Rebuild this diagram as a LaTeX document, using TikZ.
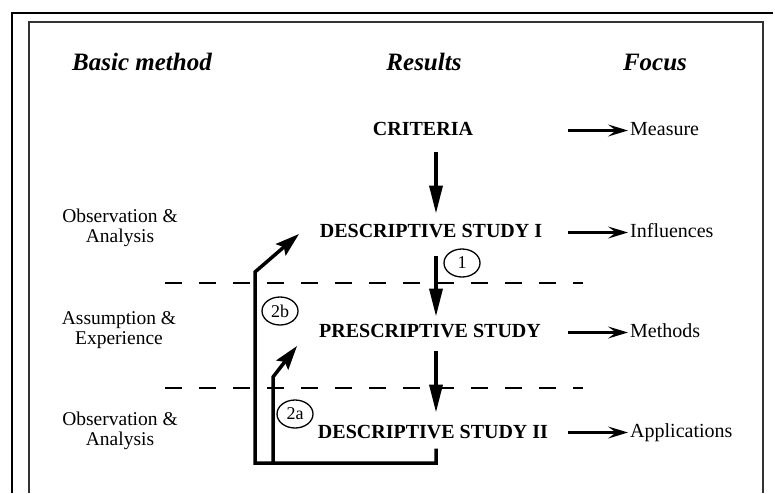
\documentclass[tikz,border=0pt]{standalone}
\usepackage{fontspec}
\setmainfont{Liberation Serif}
\usetikzlibrary{arrows.meta,shapes.geometric}

\begin{document}
\begin{tikzpicture}[x=1pt,y=-1pt,
  colhead/.style={font=\fontsize{25}{25}\selectfont\bfseries\itshape, anchor=base, inner sep=0},
  result/.style={font=\fontsize{20}{20}\selectfont\bfseries, anchor=base, inner sep=0},
  basic/.style={font=\fontsize{19.5}{20}\selectfont, align=center, inner sep=0},
  focus/.style={font=\fontsize{20}{20}\selectfont, anchor=base west, inner sep=0, text height=13pt, text depth=4pt},
  flowarrow/.style={line width=3.5pt, -{Triangle[length=28pt,width=13pt]}},
  focusarrow/.style={line width=2.2pt, -{Stealth[length=20pt,width=12pt,inset=8pt]}},
  feedarrow/.style={line width=3.5pt, -{Stealth[length=24pt,width=15pt,inset=4pt]}},
  phasetag/.style={draw, ellipse, line width=1.3pt, minimum width=36pt, minimum height=28pt, inner sep=0, font=\fontsize{18}{18}\selectfont},
  phaseline/.style={line width=2pt, dash pattern=on 17pt off 17pt}]
\useasboundingbox (0,0) rectangle (775,493);
% frames
\draw[line width=2pt] (12,493) -- (12,13) -- (773,13);
\draw[line width=2pt, black!80] (29,493) -- (29,22) -- (763,22) -- (763,493);
% column heads
\node[colhead] (hbasic) at (142,70) {Basic method};
\node[colhead] (hresults) at (424,70) {Results};
\node[colhead] (hfocus) at (655,70) {Focus};
% results
\node[result] (crit) at (423,135) {CRITERIA};
\node[result] (dsone) at (431,237) {DESCRIPTIVE STUDY I};
\node[result] (pstudy) at (430,337) {PRESCRIPTIVE STUDY};
\node[result] (dstwo) at (433,438) {DESCRIPTIVE STUDY II};
% basic methods
\node[basic] (obsone) at (120,228) {Observation \&\\Analysis};
\node[basic] (assump) at (119,330) {Assumption \&\\Experience};
\node[basic] (obstwo) at (120,431) {Observation \&\\Analysis};
% focus
\node[focus] (measure) at (630,135) {Measure};
\node[focus] (influ) at (630,237) {Influences};
\node[focus] (methods) at (630,337) {Methods};
\node[focus] (applic) at (630,437) {Applications};
\coordinate (fstart) at (568,0);
\foreach \f in {measure,influ,methods,applic}
  \draw[focusarrow] (\f.west -| fstart) -- ([xshift=-2pt]\f.west);
% main flow
\coordinate (axis) at (436,0);
\draw[flowarrow] ([yshift=-17pt]crit.south -| axis) -- ([yshift=10pt]dsone.north -| axis);
\draw[flowarrow] ([yshift=-18pt]dsone.south -| axis) -- ([yshift=7pt]pstudy.north -| axis);
\draw[flowarrow] ([yshift=-13pt]pstudy.south -| axis) -- ([yshift=12pt]dstwo.north -| axis);
% phase borders
\draw[phaseline] (165,283) -- (583,283);
\draw[phaseline] (165,388) -- (583,388);
% feedback
\coordinate (base) at (0,463);
\coordinate (kinkb) at (255,272);
\coordinate (tipb) at (299,234);
\coordinate (kinka) at (273,377);
\coordinate (tipa) at (297,346);
\draw[feedarrow] ([yshift=-10pt]dstwo.south -| axis) |- (kinkb |- base) -- (kinkb) -- (tipb);
\draw[feedarrow] (kinka |- base) -- (kinka) -- (tipa);
\node[phasetag] (one) at (462,263) {1};
\node[phasetag] (twob) at (280,311) {2b};
\node[phasetag] (twoa) at (295,414) {2a};
\end{tikzpicture}
\end{document}
